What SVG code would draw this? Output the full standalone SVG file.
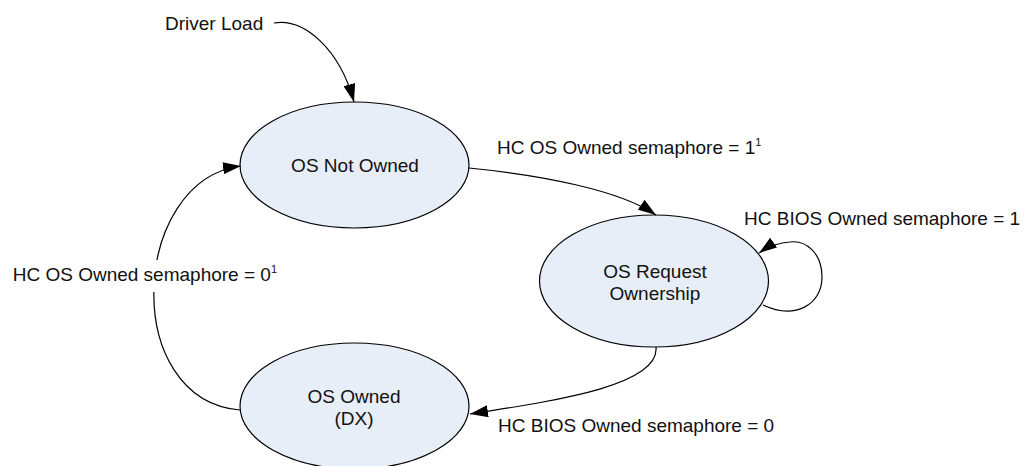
<svg xmlns="http://www.w3.org/2000/svg" width="1026" height="466" viewBox="0 0 1026 466">
<style>
.node{fill:#E8EEF7;stroke:#000;stroke-width:1.2}
.lbl{font-family:"Liberation Sans",Arial,sans-serif;font-size:19px;fill:#111}
.sup{font-size:11px}
.edge{fill:none;stroke:#000;stroke-width:1.2}
</style>
<defs>
<marker id="arr" markerUnits="userSpaceOnUse" markerWidth="18" markerHeight="12" refX="18" refY="6" orient="auto">
<path d="M0,0 L18,6 L0,12 z" fill="#000"/>
</marker>
</defs>
<rect width="1026" height="466" fill="#fff"/>
<g id="nodes">
<g id="n-not-owned">
<ellipse class="node" cx="354.5" cy="165" rx="114.5" ry="63"/>
<text class="lbl" x="355" y="172" text-anchor="middle">OS Not Owned</text>
</g>
<g id="n-request">
<ellipse class="node" cx="654" cy="281" rx="114.5" ry="66"/>
<text class="lbl" x="655" y="278" text-anchor="middle">OS Request</text>
<text class="lbl" x="655" y="300" text-anchor="middle">Ownership</text>
</g>
<g id="n-owned">
<ellipse class="node" cx="354.5" cy="406" rx="114.5" ry="63"/>
<text class="lbl" x="354" y="403" text-anchor="middle">OS Owned</text>
<text class="lbl" x="354" y="425" text-anchor="middle">(DX)</text>
</g>
</g>
<g id="connectors">
<path class="edge" d="M274,23 C305,18 340,50 354,102" marker-end="url(#arr)"/>
<path class="edge" d="M469,168 C540,175 620,190 656,215" marker-end="url(#arr)"/>
<path class="edge" d="M763,305 C795,320 822,305 822,277 C822,252 805,240 790,242 C776,243 766,248 759,253" marker-end="url(#arr)"/>
<path class="edge" d="M656,347 C660,385 560,400 470,414" marker-end="url(#arr)"/>
<path class="edge" d="M240,410 C120,400 130,180 241,166" marker-end="url(#arr)"/>
</g>
<g id="labels">
<text class="lbl" x="165" y="30">Driver Load</text>
<text class="lbl" x="497" y="154">HC OS Owned semaphore = 1<tspan class="sup" dy="-8">1</tspan></text>
<text class="lbl" x="744" y="225">HC BIOS Owned semaphore = 1</text>
<text class="lbl" x="498" y="432">HC BIOS Owned semaphore = 0</text>
<rect x="10" y="260" width="280" height="32" fill="#fff"/>
<text class="lbl" x="12.7" y="281">HC OS Owned semaphore = 0<tspan class="sup" dy="-8">1</tspan></text>
</g>
</svg>
